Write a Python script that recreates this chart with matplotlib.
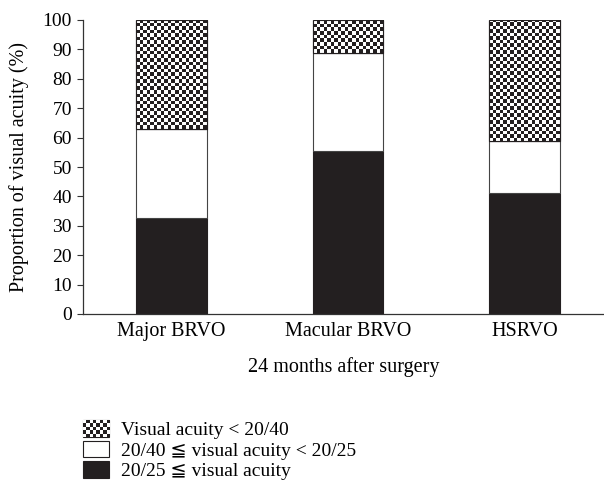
import numpy as np
import matplotlib
matplotlib.use("Agg")
import matplotlib.pyplot as plt
from matplotlib.patches import Patch
from matplotlib.colors import ListedColormap

plt.rcParams['font.family'] = ['Liberation Serif', 'DejaVu Sans', 'Noto Sans CJK JP']

categories = ["Major BRVO", "Macular BRVO", "HSRVO"]
good = [32.6, 55.5, 41.2]        # 20/25 <= visual acuity
middle = [30.3, 33.3, 17.6]      # 20/40 <= VA < 20/25
poor = [37.1, 11.2, 41.2]        # VA < 20/40
labels = ["Visual acuity < 20/40", "20/40 \u2266 visual acuity < 20/25", "20/25 \u2266 visual acuity"]
yticks = list(range(0, 101, 10))

DARK = '#231f20'
CELL_PX = 3.5
FS = 14.5

fig = plt.figure(figsize=(6.04, 4.84), dpi=100)
ax = fig.add_axes([83/604, 1 - 314/484, 1 - 83/604, (314 - 20)/484])
x = np.arange(len(categories))
w = 0.4
ax.set_xlim(-0.5, 2.45)
ax.set_ylim(0, 100)

b1 = ax.bar(x, good, w, color=DARK, edgecolor=DARK, lw=0.8, zorder=2)
b2 = ax.bar(x, middle, w, bottom=good, color='white', edgecolor='#444444', lw=0.8, zorder=2)
bottom3 = np.array(good) + np.array(middle)
b3 = ax.bar(x, poor, w, bottom=bottom3, color='white', edgecolor=DARK, lw=0.8, zorder=2)

cmap = ListedColormap(['white', DARK])

def checker(nx, ny):
    return (np.add.outer(np.arange(ny), np.arange(nx)) % 2).astype(float)

for rect in b3.patches:
    bb = rect.get_bbox()
    p0 = ax.transData.transform((bb.x0, bb.y0))
    p1 = ax.transData.transform((bb.x1, bb.y1))
    nx = max(1, int(round((p1[0] - p0[0]) / CELL_PX)))
    ny = max(1, int(round((p1[1] - p0[1]) / CELL_PX)))
    im = ax.imshow(checker(nx, ny), cmap=cmap, vmin=0, vmax=1, interpolation='nearest',
                   extent=(bb.x0, bb.x1, bb.y0, bb.y1), aspect='auto', zorder=3, origin='lower')
    im.set_clip_path(rect)
    ax.add_patch(plt.Rectangle((bb.x0, bb.y0), bb.width, bb.height, fill=False,
                               edgecolor=DARK, lw=0.8, zorder=4))

ax.set_xlim(-0.5, 2.45)
ax.set_ylim(0, 100)
ax.set_xticks(x)
ax.set_xticklabels(categories, fontsize=FS)
ax.tick_params(axis='x', length=0, pad=6)
ax.set_yticks(yticks)
ax.set_yticklabels([str(t) for t in yticks], fontsize=14)
ax.tick_params(axis='y', direction='out', length=4, width=0.8, color='#333333', pad=4)
for s in ['top', 'right']:
    ax.spines[s].set_visible(False)
for s in ['left', 'bottom']:
    ax.spines[s].set_color('#333333')
    ax.spines[s].set_linewidth(0.9)
ax.set_xlabel("24 months after surgery", fontsize=FS, labelpad=11)
ax.set_ylabel("Proportion of visual acuity (%)", fontsize=FS, labelpad=10)

handles = [Patch(facecolor='white', edgecolor=DARK, lw=0.8),
           Patch(facecolor='white', edgecolor=DARK, lw=0.8),
           Patch(facecolor=DARK, edgecolor=DARK, lw=0.8)]
leg = fig.legend(handles, labels, loc='upper left', bbox_to_anchor=(83/604, 1 - 420/484),
                 frameon=False, fontsize=14, handlelength=1.35, handleheight=0.95,
                 handletextpad=0.6, labelspacing=0.08, borderpad=0, borderaxespad=0)

fig.canvas.draw()
hb = leg.legend_handles[0].get_window_extent(fig.canvas.get_renderer())
W, H = fig.bbox.width, fig.bbox.height
iax = fig.add_axes([hb.x0 / W, hb.y0 / H, hb.width / W, hb.height / H])
iax.set_zorder(10)
nx = max(1, int(round(hb.width / CELL_PX)))
ny = max(1, int(round(hb.height / CELL_PX)))
iax.imshow(checker(nx, ny), cmap=cmap, vmin=0, vmax=1, interpolation='nearest', aspect='auto')
iax.set_xticks([]); iax.set_yticks([])
for s in iax.spines.values():
    s.set_visible(False)

fig.savefig("out.png", dpi=100)
